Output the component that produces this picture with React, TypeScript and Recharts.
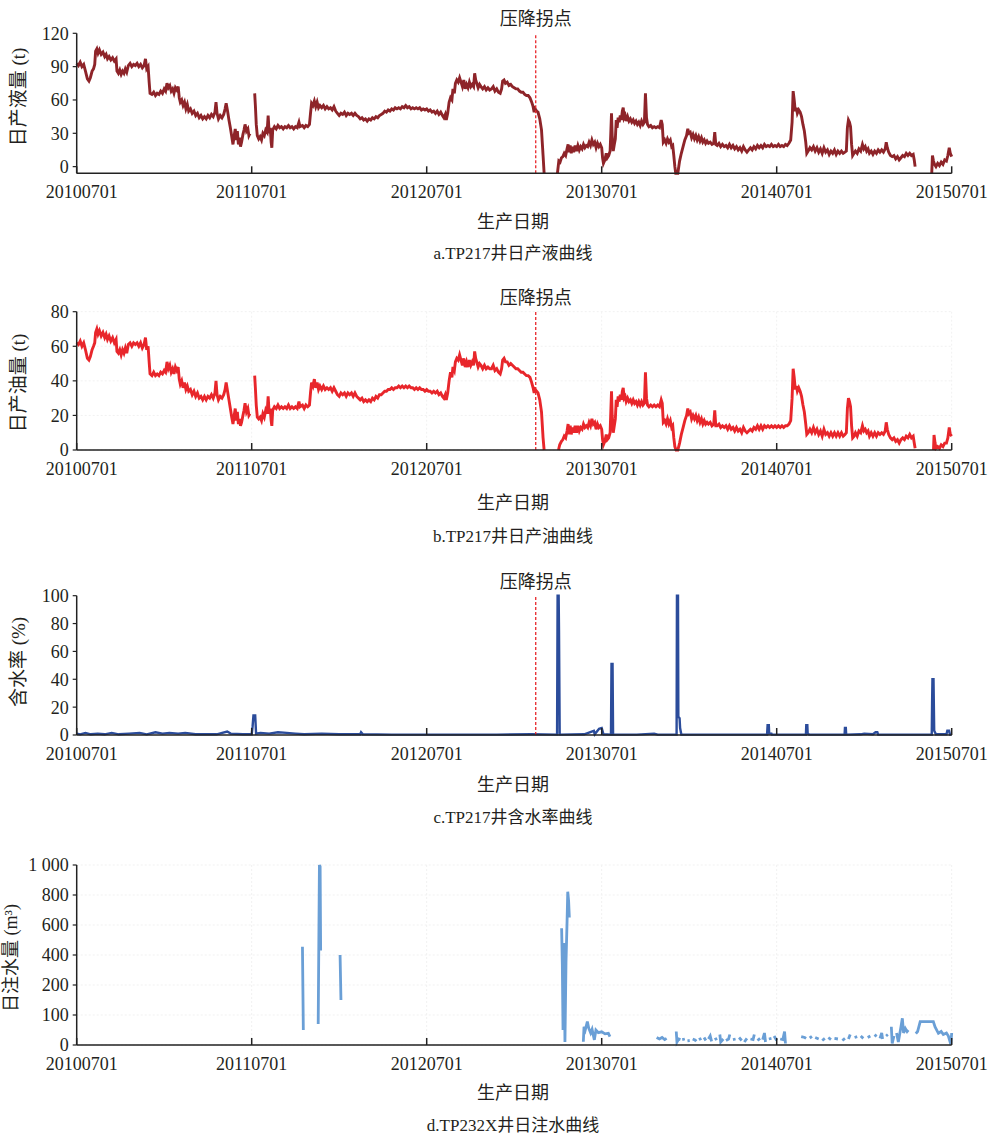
import React from 'react';
import { LineChart, Line, XAxis, YAxis, ReferenceLine, CartesianGrid } from 'recharts';

// ---------- shared axis data ----------
const tickDates = [2010.5, 2011.5, 2012.5, 2013.5, 2014.5, 2015.5];
const tickLabels = ['20100701', '20110701', '20120701', '20130701', '20140701', '20150701'];
const kneeDate = 2013.123;
const kneeLabel = '压降拐点';
const xTitle = '生产日期';

type Pt = [number, number | null];

// ---------- a. daily liquid (t): [date as decimal year, value] ----------
const liquidPoints: Pt[] = [
  [2010.5, 93], [2010.51, 91], [2010.52, 94], [2010.53, 90], [2010.54, 92], [2010.55, 86], [2010.561, 79], [2010.57, 77],
  [2010.578, 80], [2010.588, 86], [2010.596, 88], [2010.603, 92], [2010.608, 104], [2010.615, 106], [2010.622, 102],
  [2010.63, 105], [2010.64, 101], [2010.65, 103], [2010.66, 99], [2010.668, 101], [2010.676, 97], [2010.685, 99],
  [2010.695, 96], [2010.705, 98], [2010.715, 95], [2010.725, 97], [2010.73, 86], [2010.738, 84], [2010.746, 87],
  [2010.754, 83], [2010.762, 86], [2010.77, 84], [2010.778, 88], [2010.786, 85], [2010.795, 91], [2010.805, 93],
  [2010.815, 90], [2010.825, 92], [2010.835, 91], [2010.845, 93], [2010.855, 90], [2010.865, 92], [2010.875, 89],
  [2010.885, 91], [2010.893, 97], [2010.9, 88], [2010.908, 90], [2010.914, 76], [2010.919, 66],
  [2010.93, 65], [2010.94, 67], [2010.95, 64], [2010.96, 66], [2010.97, 65], [2010.98, 68], [2010.99, 66], [2011.0, 70],
  [2011.008, 68], [2011.016, 75], [2011.024, 71], [2011.032, 73], [2011.04, 68], [2011.048, 70], [2011.056, 66],
  [2011.064, 71], [2011.072, 69], [2011.08, 72], [2011.086, 62], [2011.092, 58], [2011.1, 60], [2011.108, 55],
  [2011.116, 58], [2011.124, 52], [2011.132, 56], [2011.14, 50], [2011.15, 52], [2011.16, 48], [2011.17, 50],
  [2011.18, 46], [2011.19, 48], [2011.2, 44], [2011.21, 46], [2011.22, 43], [2011.23, 45], [2011.24, 43], [2011.25, 46],
  [2011.26, 44], [2011.27, 47], [2011.28, 45], [2011.29, 49], [2011.296, 58], [2011.302, 48], [2011.31, 43],
  [2011.32, 46], [2011.33, 44], [2011.34, 47], [2011.348, 52], [2011.354, 57], [2011.362, 50], [2011.37, 42],
  [2011.378, 35], [2011.386, 27], [2011.393, 20], [2011.4, 28], [2011.406, 34], [2011.412, 24], [2011.418, 32],
  [2011.424, 20], [2011.43, 26], [2011.436, 18], [2011.442, 22], [2011.45, 29], [2011.456, 33], [2011.462, 38],
  [2011.47, 32], [2011.478, 34], [2011.484, 28], [2011.49, 30], [2011.505, null],
  [2011.517, 66], [2011.521, 55], [2011.526, 38], [2011.532, 28], [2011.54, 25], [2011.548, 27], [2011.556, 24],
  [2011.564, 30], [2011.572, 28], [2011.58, 33], [2011.588, 31], [2011.594, 46], [2011.6, 30], [2011.606, 35],
  [2011.611, 22], [2011.615, 17], [2011.62, 33], [2011.63, 36], [2011.64, 34], [2011.65, 37], [2011.66, 35],
  [2011.67, 36], [2011.68, 34], [2011.69, 36], [2011.7, 35], [2011.71, 37], [2011.72, 35], [2011.73, 36], [2011.74, 34],
  [2011.75, 36], [2011.76, 35], [2011.77, 40], [2011.776, 36], [2011.79, 37], [2011.8, 35], [2011.81, 37], [2011.82, 36],
  [2011.83, 38], [2011.836, 48], [2011.842, 57], [2011.85, 55], [2011.858, 59], [2011.866, 54], [2011.874, 58],
  [2011.882, 53], [2011.89, 55], [2011.9, 53], [2011.91, 55], [2011.92, 52], [2011.93, 54], [2011.94, 52], [2011.95, 53],
  [2011.96, 51], [2011.97, 54], [2011.98, 50], [2011.99, 48], [2012.0, 46], [2012.01, 48], [2012.02, 47], [2012.03, 49],
  [2012.04, 46], [2012.05, 48], [2012.06, 47], [2012.07, 48], [2012.08, 46], [2012.09, 48], [2012.1, 46], [2012.11, 45],
  [2012.12, 43], [2012.13, 44], [2012.14, 42], [2012.15, 43], [2012.16, 41], [2012.17, 43], [2012.18, 42], [2012.19, 44],
  [2012.2, 43], [2012.21, 45], [2012.22, 44], [2012.23, 46], [2012.24, 47], [2012.25, 48], [2012.26, 50], [2012.27, 49],
  [2012.28, 51], [2012.29, 50], [2012.3, 52], [2012.31, 51], [2012.32, 53], [2012.33, 52], [2012.34, 53], [2012.35, 52],
  [2012.36, 54], [2012.37, 53], [2012.38, 55], [2012.39, 53], [2012.4, 54], [2012.41, 52], [2012.42, 53], [2012.43, 52],
  [2012.44, 53], [2012.45, 52], [2012.46, 53], [2012.47, 51], [2012.48, 52], [2012.49, 51], [2012.5, 52], [2012.51, 50],
  [2012.52, 51], [2012.53, 49], [2012.54, 50], [2012.55, 48], [2012.56, 50], [2012.57, 47], [2012.58, 49], [2012.59, 46],
  [2012.598, 44], [2012.606, 47], [2012.612, 42], [2012.62, 48], [2012.628, 58], [2012.636, 62], [2012.644, 60],
  [2012.65, 70], [2012.658, 66], [2012.664, 75], [2012.672, 78], [2012.68, 76], [2012.688, 80], [2012.696, 76],
  [2012.704, 72], [2012.712, 78], [2012.72, 70], [2012.728, 74], [2012.736, 71], [2012.744, 76], [2012.752, 72],
  [2012.76, 74], [2012.768, 72], [2012.774, 84], [2012.78, 78], [2012.786, 75], [2012.794, 71], [2012.802, 74],
  [2012.81, 72], [2012.82, 70], [2012.83, 72], [2012.84, 69], [2012.85, 71], [2012.86, 69], [2012.87, 70], [2012.88, 72],
  [2012.89, 68], [2012.9, 70], [2012.91, 67], [2012.92, 66], [2012.928, 70], [2012.934, 77], [2012.942, 78],
  [2012.95, 75], [2012.96, 76], [2012.97, 73], [2012.98, 74], [2012.99, 72], [2013.0, 71], [2013.01, 70], [2013.02, 70],
  [2013.03, 68], [2013.04, 67], [2013.05, 67], [2013.06, 65], [2013.07, 64], [2013.08, 64], [2013.09, 62], [2013.1, 58],
  [2013.108, 54], [2013.114, 49], [2013.12, 52], [2013.128, 50], [2013.136, 49], [2013.146, 43], [2013.156, 33],
  [2013.165, 10], [2013.171, -6], [2013.21, null],
  [2013.247, -6], [2013.255, 5], [2013.262, 4], [2013.27, 8], [2013.278, 9], [2013.286, 12], [2013.294, 10],
  [2013.302, 16], [2013.308, 20], [2013.314, 13], [2013.32, 19], [2013.326, 12], [2013.332, 18], [2013.34, 13],
  [2013.348, 19], [2013.356, 14], [2013.364, 19], [2013.372, 15], [2013.38, 18], [2013.388, 16], [2013.396, 20],
  [2013.404, 17], [2013.412, 19], [2013.42, 18], [2013.428, 22], [2013.436, 19], [2013.444, 24], [2013.452, 20],
  [2013.46, 22], [2013.468, 17], [2013.476, 21], [2013.484, 18], [2013.492, 20], [2013.5, 17], [2013.505, 8],
  [2013.51, 3], [2013.518, 6], [2013.526, 12], [2013.532, 8], [2013.54, 10], [2013.548, 14], [2013.552, 30],
  [2013.556, 48], [2013.56, 28], [2013.566, 14], [2013.572, 20], [2013.578, 25], [2013.583, 42], [2013.588, 35],
  [2013.594, 44], [2013.6, 40], [2013.606, 46], [2013.612, 42], [2013.618, 50], [2013.623, 53], [2013.628, 44],
  [2013.634, 46], [2013.64, 41], [2013.648, 45], [2013.656, 41], [2013.664, 43], [2013.672, 40], [2013.68, 42],
  [2013.688, 39], [2013.696, 41], [2013.704, 38], [2013.712, 40], [2013.72, 37], [2013.728, 41], [2013.736, 38],
  [2013.744, 40], [2013.75, 66], [2013.756, 44], [2013.762, 38], [2013.77, 36], [2013.78, 37], [2013.79, 35],
  [2013.8, 36], [2013.81, 35], [2013.82, 36], [2013.83, 35], [2013.84, 42], [2013.846, 38], [2013.852, 22],
  [2013.86, 24], [2013.868, 21], [2013.876, 25], [2013.884, 22], [2013.892, 24], [2013.9, 18], [2013.906, 19],
  [2013.912, 10], [2013.918, 0], [2013.923, -6], [2013.935, -6], [2013.945, 5], [2013.955, 12], [2013.965, 18],
  [2013.975, 24], [2013.985, 28], [2013.992, 34], [2013.998, 30], [2014.006, 31], [2014.014, 26], [2014.022, 29],
  [2014.03, 25], [2014.038, 28], [2014.046, 24], [2014.054, 27], [2014.062, 23], [2014.07, 26], [2014.078, 22],
  [2014.086, 24], [2014.094, 21], [2014.102, 23], [2014.11, 21], [2014.12, 22], [2014.13, 20], [2014.14, 21],
  [2014.146, 31], [2014.152, 20], [2014.16, 19], [2014.17, 21], [2014.18, 18], [2014.19, 20], [2014.2, 18], [2014.21, 19],
  [2014.22, 17], [2014.23, 20], [2014.24, 17], [2014.25, 19], [2014.26, 16], [2014.27, 18], [2014.28, 15], [2014.29, 17],
  [2014.3, 14], [2014.31, 18], [2014.32, 15], [2014.33, 13], [2014.34, 15], [2014.35, 17], [2014.36, 15], [2014.37, 18],
  [2014.38, 16], [2014.39, 19], [2014.4, 17], [2014.41, 19], [2014.42, 17], [2014.43, 20], [2014.44, 18], [2014.45, 19],
  [2014.46, 18], [2014.47, 20], [2014.48, 18], [2014.49, 19], [2014.5, 18], [2014.51, 20], [2014.52, 18], [2014.53, 19],
  [2014.54, 18], [2014.55, 20], [2014.56, 19], [2014.57, 21], [2014.58, 24], [2014.588, 40], [2014.594, 68],
  [2014.6, 60], [2014.606, 50], [2014.612, 53], [2014.618, 48], [2014.626, 51], [2014.634, 49], [2014.642, 45],
  [2014.65, 38], [2014.658, 32], [2014.666, 22], [2014.672, 12], [2014.68, 14], [2014.69, 17], [2014.7, 15], [2014.71, 18],
  [2014.72, 14], [2014.73, 17], [2014.74, 13], [2014.75, 16], [2014.76, 12], [2014.77, 17], [2014.78, 13], [2014.79, 15],
  [2014.8, 11], [2014.81, 14], [2014.82, 12], [2014.83, 15], [2014.84, 11], [2014.85, 14], [2014.86, 12], [2014.87, 14],
  [2014.88, 12], [2014.89, 13], [2014.898, 14], [2014.904, 35], [2014.91, 42], [2014.916, 40], [2014.922, 36],
  [2014.928, 20], [2014.934, 10], [2014.942, 12], [2014.95, 14], [2014.96, 12], [2014.97, 16], [2014.98, 14],
  [2014.99, 20], [2014.998, 16], [2015.006, 18], [2015.014, 14], [2015.022, 16], [2015.03, 12], [2015.04, 14],
  [2015.05, 11], [2015.06, 14], [2015.07, 12], [2015.08, 15], [2015.09, 13], [2015.1, 15], [2015.11, 13], [2015.12, 16],
  [2015.126, 22], [2015.132, 17], [2015.14, 13], [2015.15, 10], [2015.16, 9], [2015.17, 10], [2015.18, 7], [2015.19, 9],
  [2015.2, 6], [2015.21, 8], [2015.22, 10], [2015.23, 9], [2015.24, 12], [2015.25, 10], [2015.26, 12], [2015.27, 10],
  [2015.28, 11], [2015.286, 6], [2015.291, 0], [2015.34, null],
  [2015.386, -6], [2015.39, 10], [2015.396, 5], [2015.402, 2], [2015.41, 0], [2015.42, 3], [2015.43, 1], [2015.44, 4],
  [2015.45, 2], [2015.46, 6], [2015.47, 5], [2015.478, 10], [2015.486, 17], [2015.492, 12], [2015.5, 9],
];

// ---------- b. daily oil (t) ----------
const oilPoints: Pt[] = [
  [2010.5, 62], [2010.51, 61], [2010.52, 63], [2010.53, 60], [2010.54, 62], [2010.55, 58], [2010.561, 53], [2010.57, 52],
  [2010.578, 54], [2010.588, 58], [2010.596, 60], [2010.603, 62], [2010.608, 68], [2010.615, 70], [2010.622, 67],
  [2010.63, 69], [2010.64, 66], [2010.65, 68], [2010.66, 65], [2010.668, 67], [2010.676, 64], [2010.685, 66],
  [2010.695, 63], [2010.705, 65], [2010.715, 62], [2010.725, 64], [2010.73, 57], [2010.738, 56], [2010.746, 58],
  [2010.754, 55], [2010.762, 58], [2010.77, 56], [2010.778, 59], [2010.786, 56], [2010.795, 61], [2010.805, 62],
  [2010.815, 60], [2010.825, 62], [2010.835, 61], [2010.845, 62], [2010.855, 60], [2010.865, 62], [2010.875, 59],
  [2010.885, 61], [2010.893, 65], [2010.9, 58], [2010.908, 60], [2010.914, 51], [2010.919, 44],
  [2010.93, 43], [2010.94, 45], [2010.95, 43], [2010.96, 44], [2010.97, 43], [2010.98, 45], [2010.99, 44], [2011.0, 46],
  [2011.008, 45], [2011.016, 51], [2011.024, 47], [2011.032, 49], [2011.04, 45], [2011.048, 47], [2011.056, 44],
  [2011.064, 48], [2011.072, 46], [2011.08, 48], [2011.086, 41], [2011.092, 38], [2011.1, 40], [2011.108, 36],
  [2011.116, 39], [2011.124, 35], [2011.132, 37], [2011.14, 34], [2011.15, 35], [2011.16, 32], [2011.17, 34],
  [2011.18, 31], [2011.19, 33], [2011.2, 30], [2011.21, 31], [2011.22, 29], [2011.23, 31], [2011.24, 29], [2011.25, 31],
  [2011.26, 30], [2011.27, 32], [2011.28, 30], [2011.29, 33], [2011.296, 40], [2011.302, 32], [2011.31, 29],
  [2011.32, 31], [2011.33, 30], [2011.34, 32], [2011.348, 35], [2011.354, 39], [2011.362, 34], [2011.37, 29],
  [2011.378, 24], [2011.386, 19], [2011.393, 15], [2011.4, 20], [2011.406, 24], [2011.412, 17], [2011.418, 22],
  [2011.424, 15], [2011.43, 18], [2011.436, 14], [2011.442, 16], [2011.45, 20], [2011.456, 23], [2011.462, 27],
  [2011.47, 22], [2011.478, 24], [2011.484, 20], [2011.49, 21], [2011.505, null],
  [2011.517, 43], [2011.521, 36], [2011.526, 26], [2011.532, 19], [2011.54, 18], [2011.548, 19], [2011.556, 17],
  [2011.564, 21], [2011.572, 19], [2011.58, 23], [2011.588, 21], [2011.594, 31], [2011.6, 21], [2011.606, 24],
  [2011.611, 17], [2011.615, 14], [2011.62, 23], [2011.63, 25], [2011.64, 24], [2011.65, 26], [2011.66, 24],
  [2011.67, 25], [2011.68, 24], [2011.69, 25], [2011.7, 24], [2011.71, 26], [2011.72, 24], [2011.73, 25], [2011.74, 24],
  [2011.75, 25], [2011.76, 24], [2011.77, 28], [2011.776, 25], [2011.79, 26], [2011.8, 24], [2011.81, 26], [2011.82, 25],
  [2011.83, 26], [2011.836, 33], [2011.842, 39], [2011.85, 37], [2011.858, 41], [2011.866, 36], [2011.874, 39],
  [2011.882, 35], [2011.89, 37], [2011.9, 35], [2011.91, 37], [2011.92, 35], [2011.93, 36], [2011.94, 35], [2011.95, 36],
  [2011.96, 34], [2011.97, 36], [2011.98, 34], [2011.99, 32], [2012.0, 31], [2012.01, 33], [2012.02, 32], [2012.03, 33],
  [2012.04, 31], [2012.05, 33], [2012.06, 32], [2012.07, 33], [2012.08, 31], [2012.09, 33], [2012.1, 31], [2012.11, 30],
  [2012.12, 29], [2012.13, 30], [2012.14, 28], [2012.15, 29], [2012.16, 28], [2012.17, 29], [2012.18, 28], [2012.19, 30],
  [2012.2, 29], [2012.21, 31], [2012.22, 30], [2012.23, 32], [2012.24, 32], [2012.25, 33], [2012.26, 34], [2012.27, 34],
  [2012.28, 35], [2012.29, 35], [2012.3, 36], [2012.31, 35], [2012.32, 36], [2012.33, 36], [2012.34, 37], [2012.35, 36],
  [2012.36, 37], [2012.37, 36], [2012.38, 37], [2012.39, 36], [2012.4, 37], [2012.41, 36], [2012.42, 36], [2012.43, 35],
  [2012.44, 36], [2012.45, 35], [2012.46, 36], [2012.47, 35], [2012.48, 35], [2012.49, 34], [2012.5, 35], [2012.51, 34],
  [2012.52, 34], [2012.53, 33], [2012.54, 34], [2012.55, 33], [2012.56, 34], [2012.57, 32], [2012.58, 33], [2012.59, 31],
  [2012.598, 30], [2012.606, 32], [2012.612, 29], [2012.62, 33], [2012.628, 40], [2012.636, 45], [2012.644, 42],
  [2012.65, 48], [2012.658, 46], [2012.664, 51], [2012.672, 53], [2012.68, 52], [2012.688, 55], [2012.696, 52],
  [2012.704, 49], [2012.712, 53], [2012.72, 48], [2012.728, 51], [2012.736, 48], [2012.744, 52], [2012.752, 49],
  [2012.76, 51], [2012.768, 49], [2012.774, 57], [2012.78, 53], [2012.786, 51], [2012.794, 48], [2012.802, 50],
  [2012.81, 49], [2012.82, 47], [2012.83, 49], [2012.84, 47], [2012.85, 48], [2012.86, 47], [2012.87, 47], [2012.88, 49],
  [2012.89, 46], [2012.9, 47], [2012.91, 45], [2012.92, 44], [2012.928, 47], [2012.934, 52], [2012.942, 53],
  [2012.95, 51], [2012.96, 51], [2012.97, 49], [2012.98, 50], [2012.99, 49], [2013.0, 48], [2013.01, 47], [2013.02, 47],
  [2013.03, 46], [2013.04, 45], [2013.05, 45], [2013.06, 44], [2013.07, 43], [2013.08, 43], [2013.09, 42], [2013.1, 39],
  [2013.108, 36], [2013.114, 33], [2013.12, 35], [2013.128, 34], [2013.136, 33], [2013.146, 29], [2013.156, 22],
  [2013.165, 7], [2013.171, 0], [2013.21, null],
  [2013.253, 0], [2013.26, 3], [2013.27, 5], [2013.278, 6], [2013.286, 8], [2013.294, 7], [2013.302, 11], [2013.308, 15],
  [2013.314, 9], [2013.32, 14], [2013.326, 9], [2013.332, 13], [2013.34, 10], [2013.348, 14], [2013.356, 10],
  [2013.364, 14], [2013.372, 11], [2013.38, 13], [2013.388, 12], [2013.396, 15], [2013.404, 13], [2013.412, 14],
  [2013.42, 13], [2013.428, 16], [2013.436, 14], [2013.444, 18], [2013.452, 15], [2013.46, 16], [2013.468, 12],
  [2013.476, 15], [2013.484, 13], [2013.492, 14], [2013.5, 12], [2013.505, 6], [2013.51, 3], [2013.518, 5],
  [2013.526, 9], [2013.532, 6], [2013.54, 7], [2013.548, 10], [2013.552, 22], [2013.556, 34], [2013.56, 20],
  [2013.566, 10], [2013.572, 14], [2013.578, 18], [2013.583, 29], [2013.588, 25], [2013.594, 31], [2013.6, 28],
  [2013.606, 32], [2013.612, 29], [2013.618, 34], [2013.623, 36], [2013.628, 30], [2013.634, 31], [2013.64, 28],
  [2013.648, 30], [2013.656, 28], [2013.664, 29], [2013.672, 27], [2013.68, 29], [2013.688, 27], [2013.696, 28],
  [2013.704, 26], [2013.712, 28], [2013.72, 26], [2013.728, 28], [2013.736, 26], [2013.744, 27], [2013.75, 45],
  [2013.756, 30], [2013.762, 26], [2013.77, 25], [2013.78, 26], [2013.79, 25], [2013.8, 26], [2013.81, 25], [2013.82, 26],
  [2013.83, 25], [2013.84, 29], [2013.846, 27], [2013.852, 16], [2013.86, 17], [2013.868, 15], [2013.876, 18],
  [2013.884, 15], [2013.892, 17], [2013.9, 13], [2013.906, 14], [2013.912, 7], [2013.918, 2], [2013.925, 0],
  [2013.935, 0], [2013.945, 4], [2013.955, 9], [2013.965, 13], [2013.975, 17], [2013.985, 20], [2013.992, 24],
  [2013.998, 21], [2014.006, 22], [2014.014, 18], [2014.022, 20], [2014.03, 18], [2014.038, 20], [2014.046, 17],
  [2014.054, 19], [2014.062, 16], [2014.07, 18], [2014.078, 15], [2014.086, 17], [2014.094, 15], [2014.102, 16],
  [2014.11, 15], [2014.12, 16], [2014.13, 14], [2014.14, 15], [2014.146, 23], [2014.152, 14], [2014.16, 14],
  [2014.17, 15], [2014.18, 13], [2014.19, 14], [2014.2, 13], [2014.21, 14], [2014.22, 12], [2014.23, 14], [2014.24, 12],
  [2014.25, 13], [2014.26, 11], [2014.27, 13], [2014.28, 11], [2014.29, 12], [2014.3, 10], [2014.31, 13], [2014.32, 11],
  [2014.33, 10], [2014.34, 11], [2014.35, 12], [2014.36, 11], [2014.37, 13], [2014.38, 12], [2014.39, 14], [2014.4, 12],
  [2014.41, 14], [2014.42, 12], [2014.43, 14], [2014.44, 13], [2014.45, 14], [2014.46, 13], [2014.47, 14], [2014.48, 13],
  [2014.49, 14], [2014.5, 13], [2014.51, 14], [2014.52, 13], [2014.53, 14], [2014.54, 13], [2014.55, 14], [2014.56, 14],
  [2014.57, 15], [2014.58, 17], [2014.588, 30], [2014.594, 47], [2014.6, 42], [2014.606, 35], [2014.612, 37],
  [2014.618, 34], [2014.626, 36], [2014.634, 34], [2014.642, 31], [2014.65, 26], [2014.658, 22], [2014.666, 15],
  [2014.672, 9], [2014.68, 10], [2014.69, 12], [2014.7, 10], [2014.71, 13], [2014.72, 10], [2014.73, 12], [2014.74, 9],
  [2014.75, 11], [2014.76, 8], [2014.77, 12], [2014.78, 9], [2014.79, 10], [2014.8, 8], [2014.81, 10], [2014.82, 8],
  [2014.83, 10], [2014.84, 8], [2014.85, 10], [2014.86, 8], [2014.87, 10], [2014.88, 8], [2014.89, 9], [2014.898, 10],
  [2014.904, 24], [2014.91, 30], [2014.916, 28], [2014.922, 25], [2014.928, 14], [2014.934, 7], [2014.942, 8],
  [2014.95, 10], [2014.96, 8], [2014.97, 11], [2014.98, 10], [2014.99, 14], [2014.998, 11], [2015.006, 12],
  [2015.014, 10], [2015.022, 11], [2015.03, 8], [2015.04, 10], [2015.05, 8], [2015.06, 10], [2015.07, 8], [2015.08, 10],
  [2015.09, 9], [2015.1, 10], [2015.11, 9], [2015.12, 11], [2015.126, 16], [2015.132, 12], [2015.14, 9], [2015.15, 7],
  [2015.16, 6], [2015.17, 7], [2015.18, 5], [2015.19, 6], [2015.2, 4], [2015.21, 6], [2015.22, 7], [2015.23, 6],
  [2015.24, 8], [2015.25, 7], [2015.26, 9], [2015.27, 7], [2015.28, 8], [2015.286, 4], [2015.291, 1], [2015.34, null],
  [2015.396, 0], [2015.399, 8.7], [2015.405, 4], [2015.41, 1], [2015.42, 2], [2015.43, 1], [2015.44, 3], [2015.45, 2],
  [2015.46, 4], [2015.47, 4], [2015.478, 7], [2015.486, 13], [2015.492, 9], [2015.5, 8],
];

// ---------- c. water cut (%) ----------
const cutPoints: Pt[] = [
  [2010.5, 1], [2010.52, 0.5], [2010.55, 1.5], [2010.58, 0.5], [2010.62, 1], [2010.66, 0.5], [2010.7, 1.5], [2010.74, 0.5],
  [2010.8, 1], [2010.86, 1.5], [2010.9, 0.5], [2010.95, 2], [2010.99, 1], [2011.03, 1.5], [2011.08, 1], [2011.12, 1.5],
  [2011.18, 0.5], [2011.25, 0.5], [2011.3, 0.5], [2011.36, 2.5], [2011.38, 1], [2011.45, 0.5], [2011.5, 0.5],
  [2011.505, 6], [2011.51, 14], [2011.52, 14], [2011.525, 1], [2011.55, 1.5], [2011.6, 1], [2011.65, 2], [2011.7, 1.5],
  [2011.75, 1], [2011.8, 0.5], [2011.9, 1], [2012.0, 0.5], [2012.12, 0.5], [2012.125, 2], [2012.135, 0.5], [2012.3, 0.3],
  [2012.6, 0.3], [2012.9, 0.3], [2013.1, 0.5], [2013.245, 0.3], [2013.248, 100], [2013.254, 100], [2013.256, 75],
  [2013.26, 0.3], [2013.4, 0.5], [2013.455, 3], [2013.46, 0.5], [2013.485, 4.5], [2013.5, 5], [2013.51, 0.5],
  [2013.553, 0.3], [2013.556, 51], [2013.562, 51], [2013.565, 0.3], [2013.7, 0.3], [2013.8, 1], [2013.82, 0.3],
  [2013.928, 0.3], [2013.93, 100], [2013.936, 100], [2013.938, 13], [2013.945, 12], [2013.948, 5], [2013.955, 0.3],
  [2014.2, 0.3], [2014.445, 0.3], [2014.448, 7], [2014.455, 7], [2014.457, 1], [2014.47, 1], [2014.472, 0.3],
  [2014.667, 0.3], [2014.669, 7], [2014.675, 7], [2014.677, 1], [2014.685, 0.3], [2014.888, 0.3], [2014.89, 5],
  [2014.895, 5], [2014.897, 0.3], [2014.98, 0.5], [2015.0, 1], [2015.05, 0.5], [2015.065, 2], [2015.075, 2],
  [2015.08, 0.3], [2015.25, 0.3], [2015.386, 0.3], [2015.388, 23], [2015.39, 40], [2015.396, 40], [2015.4, 3],
  [2015.41, 0.5], [2015.47, 0.5], [2015.475, 3], [2015.485, 3], [2015.49, 0.3], [2015.5, 0.3],
];

// ---------- d. daily injection (m3) ----------
const injPoints: Pt[] = [
  [2011.79, 455], [2011.795, 50], [2011.84, null], [2011.88, 70], [2011.887, 1000], [2011.891, 990], [2011.894, 430],
  [2011.95, null], [2012.005, 400], [2012.01, 150], [2012.5, null],
  [2013.271, 578], [2013.275, 340], [2013.279, 50], [2013.285, 480], [2013.29, 10], [2013.296, 350], [2013.302, 620],
  [2013.306, 822], [2013.311, 760], [2013.315, 650], [2013.35, null],
  [2013.395, 11], [2013.399, 61], [2013.406, 50], [2013.418, 78], [2013.426, 56], [2013.437, 40], [2013.445, 52],
  [2013.458, 17], [2013.467, 50], [2013.481, 41], [2013.5, 44], [2013.519, 37], [2013.538, 39], [2013.547, 28],
  [2013.7, null],
  [2013.814, 25], [2013.83, 20], [2013.845, 25], [2013.86, 18], [2013.871, 22], [2013.9, null],
  [2013.926, 45], [2013.93, 10], [2013.94, 20], [2013.95, 18], [2013.955, null],
  [2013.96, 18], [2013.975, 20], [2013.982, null], [2013.99, 14], [2014.003, 15], [2014.012, null],
  [2014.02, 20], [2014.035, 16], [2014.04, 12], [2014.048, null], [2014.055, 18], [2014.07, 22], [2014.078, null],
  [2014.085, 25], [2014.095, 15], [2014.102, null], [2014.11, 20], [2014.12, 30], [2014.128, 12], [2014.137, null],
  [2014.145, 18], [2014.16, 22], [2014.168, null], [2014.175, 35], [2014.18, 10], [2014.195, 20], [2014.202, null],
  [2014.21, 15], [2014.225, 20], [2014.232, 35], [2014.241, null], [2014.25, 18], [2014.265, 20], [2014.275, null],
  [2014.285, 25], [2014.3, 15], [2014.308, null], [2014.315, 10], [2014.33, 22], [2014.34, null],
  [2014.35, 20], [2014.365, 18], [2014.372, 35], [2014.381, null], [2014.39, 15], [2014.405, 22], [2014.412, null],
  [2014.42, 18], [2014.43, 40], [2014.436, 10], [2014.446, null], [2014.455, 20], [2014.47, 22], [2014.478, null],
  [2014.485, 30], [2014.5, 15], [2014.51, null], [2014.52, 20], [2014.535, 18], [2014.545, 45], [2014.55, 5],
  [2014.6, null],
  [2014.64, 28], [2014.66, 25], [2014.668, 22], [2014.68, null], [2014.69, 30], [2014.7, 22], [2014.71, null],
  [2014.72, 25], [2014.74, 20], [2014.75, null], [2014.76, 15], [2014.775, 22], [2014.785, null],
  [2014.795, 25], [2014.81, 18], [2014.82, null], [2014.83, 22], [2014.85, 20], [2014.862, null],
  [2014.875, 15], [2014.89, 22], [2014.9, null], [2014.91, 20], [2014.92, 35], [2014.932, null],
  [2014.945, 25], [2014.96, 28], [2014.97, null], [2014.98, 30], [2014.995, 22], [2015.008, null],
  [2015.02, 25], [2015.035, 30], [2015.048, null], [2015.06, 35], [2015.07, 28], [2015.08, null],
  [2015.09, 22], [2015.1, 40], [2015.105, 20], [2015.115, null], [2015.125, 30], [2015.135, 35], [2015.145, null],
  [2015.155, 61], [2015.16, 5], [2015.17, 30], [2015.178, null],
  [2015.185, 40], [2015.195, 10], [2015.21, 60], [2015.218, 89], [2015.225, 40], [2015.235, 55], [2015.245, 45],
  [2015.252, 50], [2015.275, null],
  [2015.295, 38], [2015.305, 45], [2015.32, 78], [2015.395, 78], [2015.405, 60], [2015.424, 39], [2015.44, 45],
  [2015.452, 35], [2015.47, 40], [2015.481, 30], [2015.495, 2], [2015.5, 40],
];
const injTickValues = [0, 100, 200, 400, 600, 800, 1000];
const injTickLabels = ['0', '100', '200', '400', '600', '800', '1 000'];

// the figure's injection axis spaces these tick values evenly (piecewise-linear scale)
const injToAxis = (v: number) => {
  for (let i = 1; i < injTickValues.length; i++) {
    if (v <= injTickValues[i]) {
      const a = injTickValues[i - 1];
      const b = injTickValues[i];
      return i - 1 + (v - a) / (b - a);
    }
  }
  return injTickValues.length - 1;
};

const toRows = (pts: Pt[], f: (v: number) => number = (v) => v) =>
  pts.map(([t, v]) => ({ t, v: v === null ? null : f(v) }));

const liquidData = toRows(liquidPoints);
const oilData = toRows(oilPoints);
const cutData = toRows(cutPoints);
const injData = toRows(injPoints, injToAxis);

const SERIF = "'Liberation Serif', 'Times New Roman', 'Noto Sans CJK SC', serif";
const TXT = '#231f20';

function XTick(props: any) {
  const { x, y, payload, index } = props;
  const i = tickDates.findIndex((d) => Math.abs(d - payload.value) < 1e-6);
  const dx = index === 0 ? 5 : 0;
  return (
    <text x={x + dx} y={y} dy="0.71em" textAnchor="middle" fill={TXT} fontSize={18} fontFamily={SERIF}>
      {i >= 0 ? tickLabels[i] : ''}
    </text>
  );
}

type PanelProps = {
  top: number;
  height: number;
  marginTop: number;
  data: { t: number; v: number | null }[];
  color: string;
  domain: [number, number];
  yTicks: number[];
  yFormat?: (v: number) => string;
  knee: boolean;
  grid: boolean;
  strokeWidth: number;
};

function Panel(p: PanelProps) {
  return (
    <div style={{ position: 'absolute', left: 0, top: p.top, width: 994, height: p.height }}>
      <LineChart
        width={994}
        height={p.height}
        data={p.data}
        margin={{ top: p.marginTop, right: 42.3, bottom: 0, left: 16.7 }}
      >
        {p.grid && <CartesianGrid stroke="#f1f1f1" strokeDasharray="2 2" />}
        <XAxis
          type="number"
          dataKey="t"
          domain={[2010.5, 2015.5]}
          ticks={tickDates}
          interval={0}
          height={30}
          tickSize={-7}
          tickMargin={19}
          axisLine={{ stroke: '#222', strokeWidth: 1.5 }}
          tickLine={{ stroke: '#222', strokeWidth: 1.5 }}
          tick={<XTick />}
        />
        <YAxis
          type="number"
          domain={p.domain}
          ticks={p.yTicks}
          interval={0}
          tickFormatter={p.yFormat}
          width={60}
          tickSize={4}
          tickMargin={4}
          axisLine={{ stroke: '#222', strokeWidth: 1.5 }}
          tickLine={{ stroke: '#222', strokeWidth: 1.2 }}
          tick={{ fill: TXT, fontSize: 18, fontFamily: SERIF }}
        />
        <Line
          type="linear"
          dataKey="v"
          stroke={p.color}
          strokeWidth={p.strokeWidth}
          dot={false}
          activeDot={false}
          connectNulls={false}
          isAnimationActive={false}
        />
        {p.knee && (
          <ReferenceLine
            x={kneeDate}
            stroke="#e8262b"
            strokeWidth={1.3}
            strokeDasharray="3 2"
            label={{ value: kneeLabel, position: 'top', offset: 8, fill: TXT, fontSize: 18, fontFamily: SERIF }}
          />
        )}
      </LineChart>
    </div>
  );
}

const centered = (x: number, y: number, size: number): React.CSSProperties => ({
  position: 'absolute',
  left: x,
  top: y,
  transform: 'translate(-50%, -50%)',
  whiteSpace: 'nowrap',
  fontFamily: SERIF,
  fontSize: size,
  color: TXT,
  lineHeight: 1,
});
const rotated = (x: number, y: number, size: number): React.CSSProperties => ({
  ...centered(x, y, size),
  transform: 'translate(-50%, -50%) rotate(-90deg)',
});

const yTitles = ['日产液量 (t)', '日产油量 (t)', '含水率 (%)', '日注水量 (m³)'];
const captions = ['a.TP217井日产液曲线', 'b.TP217井日产油曲线', 'c.TP217井含水率曲线', 'd.TP232X井日注水曲线'];

export default function App() {
  return (
    <div style={{ position: 'absolute', left: 0, top: 0, width: 994, height: 1137, background: '#fff', overflow: 'hidden' }}>
      <Panel top={0} height={203.3} marginTop={33.3} data={liquidData} color="#8e2429" domain={[-6, 120]}
        yTicks={[0, 30, 60, 90, 120]} knee grid={false} strokeWidth={2.9} />
      <Panel top={280} height={200} marginTop={31.7} data={oilData} color="#e8262b" domain={[0, 80]}
        yTicks={[0, 20, 40, 60, 80]} knee grid strokeWidth={2.9} />
      <Panel top={560} height={205} marginTop={35.7} data={cutData} color="#2b4c9b" domain={[0, 100]}
        yTicks={[0, 20, 40, 60, 80, 100]} knee grid={false} strokeWidth={2.4} />
      <Panel top={840} height={235} marginTop={25} data={injData} color="#6a9fd6" domain={[0, 6]}
        yTicks={[0, 1, 2, 3, 4, 5, 6]} yFormat={(v) => injTickLabels[v] ?? ''} knee={false} grid strokeWidth={2.8} />

      <div style={rotated(18, 97, 19)}>{yTitles[0]}</div>
      <div style={rotated(18, 383, 19)}>{yTitles[1]}</div>
      <div style={rotated(18, 662, 19)}>{yTitles[2]}</div>
      <div style={rotated(11, 958, 18)}>{yTitles[3]}</div>

      <div style={centered(513, 221.7, 18)}>{xTitle}</div>
      <div style={centered(513, 253.3, 17)}>{captions[0]}</div>
      <div style={centered(513, 503, 18)}>{xTitle}</div>
      <div style={centered(513, 536, 17)}>{captions[1]}</div>
      <div style={centered(513, 785, 18)}>{xTitle}</div>
      <div style={centered(513, 817, 17)}>{captions[2]}</div>
      <div style={centered(513, 1093, 18)}>{xTitle}</div>
      <div style={centered(513, 1125, 17)}>{captions[3]}</div>
    </div>
  );
}
